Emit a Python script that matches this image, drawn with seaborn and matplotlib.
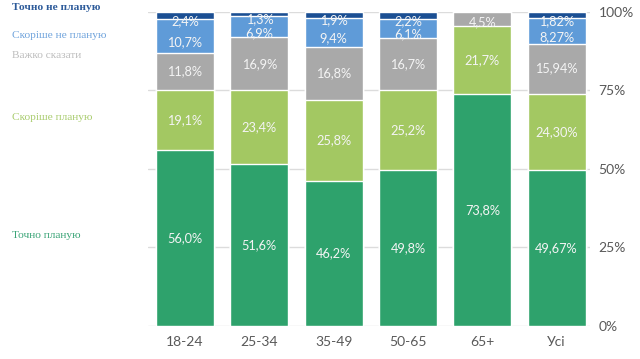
import numpy as np
import pandas as pd
import matplotlib
matplotlib.use("Agg")
import matplotlib.pyplot as plt
import seaborn as sns

groups = ["18-24", "25-34", "35-49", "50-65", "65+", "Усі"]
series = ["Точно планую", "Скоріше планую", "Важко сказати", "Скоріше не планую", "Точно не планую"]

tochno_planuyu = [56.0, 51.6, 46.2, 49.8, 73.8, 49.67]
skorishe_planuyu = [19.1, 23.4, 25.8, 25.2, 21.7, 24.30]
vazhko = [11.8, 16.9, 16.8, 16.7, 4.5, 15.94]
skorishe_ne = [10.7, 6.9, 9.4, 6.1, 0.0, 8.27]
tochno_ne = [2.4, 1.3, 1.9, 2.2, 0.0, 1.82]

labels = [
    ["56,0%", "51,6%", "46,2%", "49,8%", "73,8%", "49,67%"],
    ["19,1%", "23,4%", "25,8%", "25,2%", "21,7%", "24,30%"],
    ["11,8%", "16,9%", "16,8%", "16,7%", "4,5%", "15,94%"],
    ["10,7%", "6,9%", "9,4%", "6,1%", "", "8,27%"],
    ["2,4%", "1,3%", "1,9%", "2,2%", "", "1,82%"],
]

colors = ["#2ea26c", "#a3c862", "#a9a9a9", "#5f9bd8", "#1b4f93"]
text_colors = ["#3aa477", "#a9cc6e", "#bdbdbd", "#6fa3dc", "#2d5b9a"]

sns.set_style("white")
plt.rcParams["font.family"] = ["Lato", "DejaVu Sans"]

df = pd.DataFrame({"group": groups})
vals = [tochno_planuyu, skorishe_planuyu, vazhko, skorishe_ne, tochno_ne]
cum = np.cumsum(np.array(vals), axis=0)

fig = plt.figure(figsize=(6.4, 3.59), dpi=100)
ax = fig.add_axes([0.231, 0.092, 0.691, 0.875])

for y in [0, 25, 50, 75, 100]:
    ax.axhline(y, color="#dcdcdc", lw=1, zorder=0)

# draw cumulative bars from top down so they stack
for i in range(len(series) - 1, -1, -1):
    df["v"] = cum[i]
    sns.barplot(data=df, x="group", y="v", color=colors[i], width=0.78,
                saturation=1, ax=ax, zorder=2)

# labels near the top sit a bit lower, like in the original
shift = [0, 0, 0, -2.0, -1.9]
for i in range(len(series)):
    for j in range(len(groups)):
        if labels[i][j] == "":
            continue
        bottom = cum[i][j] - vals[i][j]
        yc = bottom + vals[i][j] / 2 + shift[i]
        if i == 2 and j == 4:
            yc -= 1.0
        ax.text(j, yc, labels[i][j], ha="center", va="center",
                color="#f4f4f4", fontsize=9.2, zorder=3)

ax.set_xlim(-0.5, 5.45)
ax.set_ylim(0, 100)
ax.set_xlabel("")
ax.set_ylabel("")
ax.yaxis.tick_right()
ax.set_yticks([0, 25, 50, 75, 100])
ax.set_yticklabels(["0%", "25%", "50%", "75%", "100%"])
ax.tick_params(axis="both", length=0, colors="#595959", labelsize=10)
ax.tick_params(axis="y", pad=6)
ax.tick_params(axis="x", pad=7)
for s in ax.spines.values():
    s.set_visible(False)

# category labels on the left
left_y = [236, 117, 55, 35, 8]
for i in range(len(series)):
    fig.text(12 / 640, 1 - left_y[i] / 359, series[i], color=text_colors[i],
             fontsize=8.2, family=["Liberation Serif", "DejaVu Serif"],
             va="center", ha="left",
             fontweight="bold" if i == 4 else "normal")

fig.savefig("out.png", dpi=100)
